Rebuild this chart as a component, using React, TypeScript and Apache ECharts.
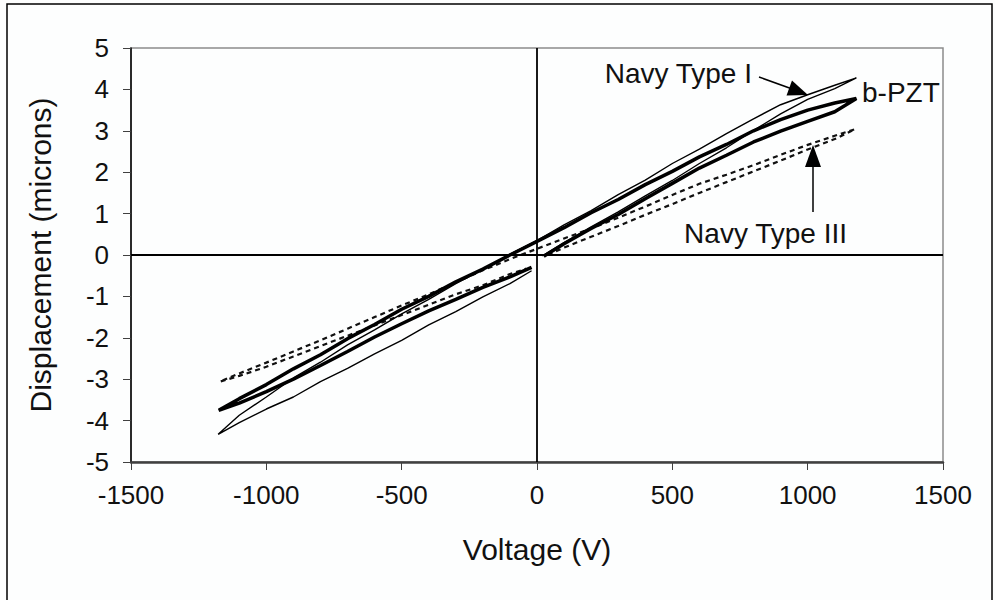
import React, { useEffect, useRef } from "react";
import * as echarts from "echarts";

// Voltage (V) vs displacement (microns), one full cycle per material, in drive order
const navyTypeI: [number, number][] = [
  [20, -0.02], [100, 0.3], [200, 0.68], [300, 1.04], [400, 1.43], [500, 1.8], [600, 2.21], [700, 2.59],
  [800, 3.01], [900, 3.41], [1000, 3.76], [1100, 4.02], [1180, 4.28],
  [1100, 4.1], [1000, 3.87], [900, 3.63], [800, 3.29], [700, 2.93], [600, 2.56], [500, 2.21], [400, 1.81],
  [300, 1.46], [200, 1.07], [100, 0.73], [0, 0.35], [-100, 0.02], [-200, -0.35], [-300, -0.69], [-400, -1.07],
  [-500, -1.42], [-600, -1.81], [-700, -2.17], [-800, -2.59], [-900, -2.97], [-1000, -3.43], [-1100, -3.87], [-1178, -4.33],
  [-1100, -4.05], [-1000, -3.72], [-900, -3.43], [-800, -3.06], [-700, -2.74], [-600, -2.39], [-500, -2.06],
  [-400, -1.69], [-300, -1.37], [-200, -1.01], [-100, -0.69], [-20, -0.38],
];

const bPZT: [number, number][] = [
  [25, -0.03], [100, 0.27], [200, 0.64], [300, 0.98], [400, 1.36], [500, 1.73], [600, 2.1], [700, 2.41],
  [800, 2.73], [900, 2.99], [1000, 3.23], [1100, 3.46], [1180, 3.78],
  [1100, 3.67], [1000, 3.5], [900, 3.27], [800, 3.0], [700, 2.67], [600, 2.37], [500, 2.02], [400, 1.7],
  [300, 1.34], [200, 1.02], [100, 0.66], [0, 0.33], [-100, 0.0], [-200, -0.34], [-300, -0.65], [-400, -1.0],
  [-500, -1.31], [-600, -1.68], [-700, -2.02], [-800, -2.41], [-900, -2.75], [-1000, -3.13], [-1100, -3.47], [-1176, -3.75],
  [-1100, -3.58], [-1000, -3.3], [-900, -3.0], [-800, -2.67], [-700, -2.33], [-600, -1.98], [-500, -1.66],
  [-400, -1.35], [-300, -1.07], [-200, -0.78], [-100, -0.53], [-20, -0.3],
];

const navyTypeIII: [number, number][] = [
  [40, 0.0], [100, 0.18], [200, 0.44], [300, 0.7], [400, 0.97], [500, 1.23], [600, 1.5], [700, 1.76],
  [800, 2.02], [900, 2.28], [1000, 2.55], [1100, 2.8], [1175, 3.04],
  [1100, 2.88], [1000, 2.66], [900, 2.42], [800, 2.17], [700, 1.94], [600, 1.72], [500, 1.45], [400, 1.17],
  [300, 0.9], [200, 0.64], [100, 0.4], [0, 0.15], [-100, -0.1], [-200, -0.37], [-300, -0.66], [-400, -0.95],
  [-500, -1.22], [-600, -1.5], [-700, -1.78], [-800, -2.06], [-900, -2.33], [-1000, -2.6], [-1100, -2.86], [-1172, -3.06],
  [-1100, -2.92], [-1000, -2.7], [-900, -2.45], [-800, -2.2], [-700, -1.95], [-600, -1.7], [-500, -1.45],
  [-400, -1.2], [-300, -0.95], [-200, -0.73], [-100, -0.46], [-40, -0.33],
];

const xLimits = [-1500, 1500];
const xStep = 500;
const yLimits = [-5, 5];
const yStep = 1;

const FONT = '"Liberation Sans", Arial, Helvetica, sans-serif';

export default function App() {
  const ref = useRef<HTMLDivElement>(null);

  useEffect(() => {
    if (!ref.current) return;
    const chart = echarts.init(ref.current, null, { renderer: "svg" });
    chart.setOption({
      animation: false,
      backgroundColor: "#fdfefe",
      grid: {
        left: 131,
        right: 52,
        top: 48,
        bottom: 138,
        show: true,
        borderColor: "#8c8c8c",
        borderWidth: 1.5,
        backgroundColor: "transparent",
      },
      xAxis: {
        type: "value",
        min: xLimits[0],
        max: xLimits[1],
        interval: xStep,
        name: "Voltage (V)",
        nameLocation: "middle",
        nameGap: 72,
        nameTextStyle: { fontSize: 30, fontFamily: FONT, color: "#111" },
        axisLine: { show: true, onZero: false, lineStyle: { color: "#404040", width: 2.5 } },
        axisTick: { show: true, inside: false, length: 8, lineStyle: { color: "#404040", width: 1 } },
        axisLabel: { fontSize: 26, fontFamily: FONT, color: "#111", margin: 20, formatter: (v: number) => String(v) },
        splitLine: { show: false },
      },
      yAxis: {
        type: "value",
        min: yLimits[0],
        max: yLimits[1],
        interval: yStep,
        name: "Displacement (microns)",
        nameLocation: "middle",
        nameGap: 76,
        nameRotate: 90,
        nameTextStyle: { fontSize: 30, fontFamily: FONT, color: "#111" },
        axisLine: { show: true, onZero: false, lineStyle: { color: "#000", width: 1.5 } },
        axisTick: { show: true, inside: false, length: 8, lineStyle: { color: "#404040", width: 1 } },
        axisLabel: { fontSize: 26, fontFamily: FONT, color: "#111", margin: 22, formatter: (v: number) => String(v) },
        splitLine: { show: false },
      },
      series: [
        {
          name: "Navy Type III",
          type: "line",
          data: navyTypeIII,
          showSymbol: false,
          lineStyle: { color: "#111", width: 2.2, type: [5, 4] },
          z: 2,
          markLine: {
            silent: true,
            symbol: ["none", "none"],
            label: { show: false },
            lineStyle: { color: "#000", width: 1.8, type: "solid" },
            data: [{ xAxis: 0 }, { yAxis: 0 }],
          },
        },
        {
          name: "Navy Type I",
          type: "line",
          data: navyTypeI,
          showSymbol: false,
          lineStyle: { color: "#000", width: 1.4 },
          z: 3,
        },
        {
          name: "b-PZT",
          type: "line",
          data: bPZT,
          showSymbol: false,
          lineStyle: { color: "#000", width: 3.5 },
          z: 4,
        },
      ],
      graphic: [
        {
          type: "rect",
          shape: { x: 7, y: 4, width: 985, height: 700 },
          style: { fill: "none", stroke: "#000", lineWidth: 1.5 },
          silent: true,
        },
        {
          type: "text",
          x: 752,
          y: 73,
          style: { text: "Navy Type I", fontSize: 28, fontFamily: FONT, fill: "#111", align: "right", verticalAlign: "middle" },
        },
        {
          type: "text",
          x: 862,
          y: 92,
          style: { text: "b-PZT", fontSize: 28, fontFamily: FONT, fill: "#111", align: "left", verticalAlign: "middle" },
        },
        {
          type: "text",
          x: 847,
          y: 233,
          style: { text: "Navy Type III", fontSize: 28, fontFamily: FONT, fill: "#111", align: "right", verticalAlign: "middle" },
        },
        {
          type: "line",
          shape: { x1: 759, y1: 77, x2: 795, y2: 90 },
          style: { stroke: "#000", lineWidth: 1.5 },
        },
        {
          type: "polygon",
          shape: { points: [[808, 95], [786.5, 95.5], [792, 80.5]] },
          style: { fill: "#000" },
        },
        {
          type: "line",
          shape: { x1: 813, y1: 212, x2: 813, y2: 162 },
          style: { stroke: "#000", lineWidth: 1.5 },
        },
        {
          type: "polygon",
          shape: { points: [[813, 145], [805, 167], [821, 167]] },
          style: { fill: "#000" },
        },
      ],
    });
    return () => chart.dispose();
  }, []);

  return <div ref={ref} style={{ position: "fixed", left: 0, top: 0, width: 995, height: 600 }} />;
}
